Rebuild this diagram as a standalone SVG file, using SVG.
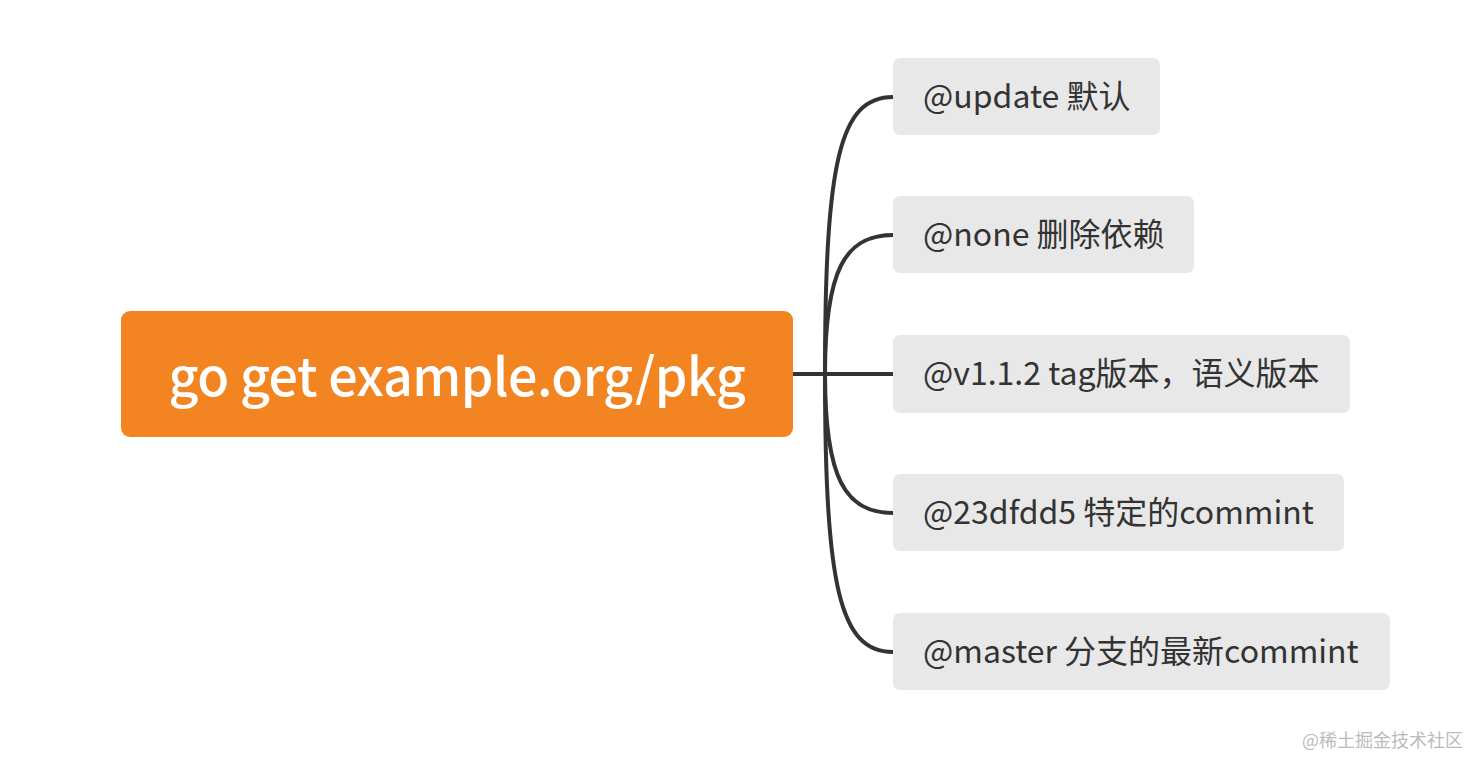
<svg xmlns="http://www.w3.org/2000/svg" width="1484" height="772" viewBox="0 0 1484 772">
<style>
.root{fill:#F38422}
.rt{font-family:"Noto Sans CJK SC","Noto Sans",sans-serif;font-size:52px;font-weight:500;letter-spacing:-0.5px;fill:#fff;text-anchor:middle}
.child{fill:#E8E8E8}
.ct{font-family:"Noto Sans CJK SC","Noto Sans",sans-serif;font-size:32px;fill:#333}
.edge{fill:none;stroke:#333;stroke-width:4;stroke-linecap:round}
.wm{font-family:"Noto Sans CJK SC",sans-serif;font-size:18px;fill:#BBBBBB}
</style>
<rect width="1484" height="772" fill="#fff"/>
<g id="connectors">
<path class="edge" d="M793 374 H893"/>
<path class="edge" d="M825 374 C825 160 840 97 893 97"/>
<path class="edge" d="M825 374 C825 270 845 235 893 235"/>
<path class="edge" d="M825 374 C825 478 845 513 893 513"/>
<path class="edge" d="M825 374 C825 588 840 652 893 652"/>
</g>
<g id="root">
<rect class="root" x="121" y="311" width="672" height="126" rx="9"/>
<text class="rt" x="457" y="396">go get example.org/pkg</text>
</g>
<g id="n1">
<rect class="child" x="893" y="58" width="267" height="77" rx="7"/>
<text class="ct" x="923" y="108">@update 默认</text>
</g>
<g id="n2">
<rect class="child" x="893" y="196" width="301" height="77" rx="7"/>
<text class="ct" x="923" y="246">@none 删除依赖</text>
</g>
<g id="n3">
<rect class="child" x="893" y="335" width="457" height="78" rx="7"/>
<text class="ct" x="923" y="385">@v1.1.2 tag版本，语义版本</text>
</g>
<g id="n4">
<rect class="child" x="893" y="474" width="451" height="77" rx="7"/>
<text class="ct" x="923" y="524">@23dfdd5 特定的commint</text>
</g>
<g id="n5">
<rect class="child" x="893" y="613" width="497" height="77" rx="7"/>
<text class="ct" x="923" y="663">@master 分支的最新commint</text>
</g>
<text class="wm" x="1302" y="747">@稀土掘金技术社区</text>
</svg>
